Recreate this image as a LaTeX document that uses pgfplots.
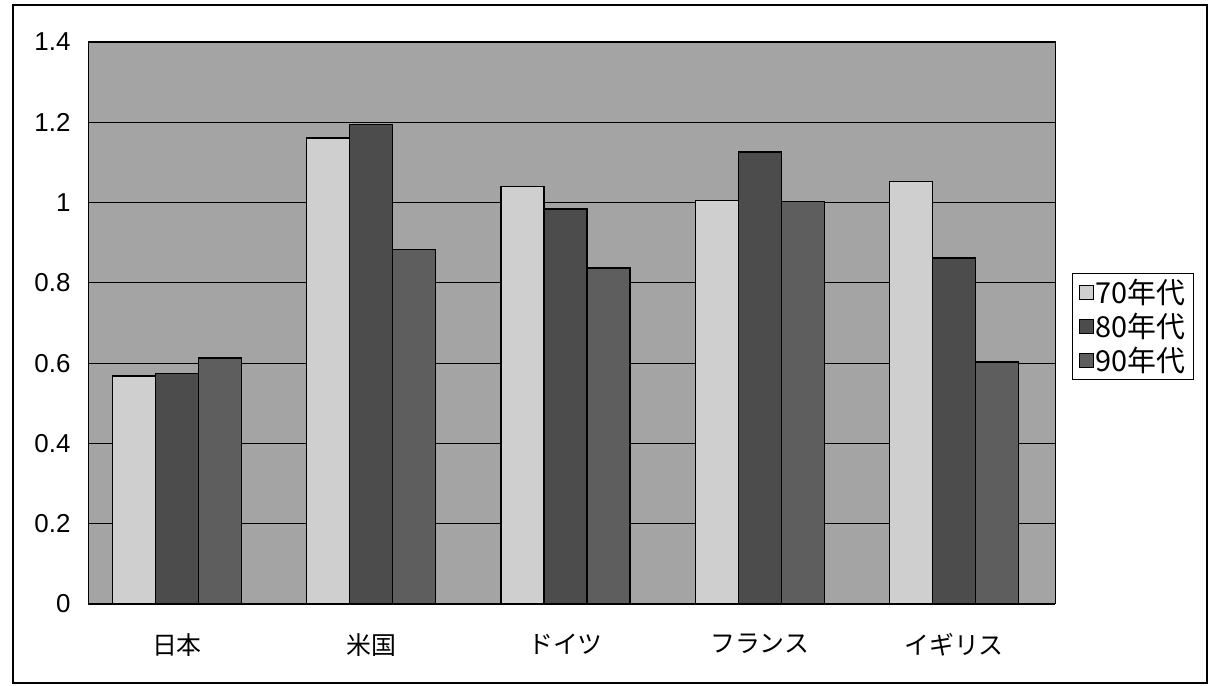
\documentclass[border=0pt]{standalone}
\usepackage{pgfplots}
\pgfplotsset{compat=1.18}
\usepackage{fontspec}
\setmainfont{Liberation Sans}
\newfontfamily\jp{Noto Sans CJK JP}
\definecolor{bgc}{HTML}{A4A4A4}
\definecolor{c70}{HTML}{CFCFCF}
\definecolor{c80}{HTML}{4C4C4C}
\definecolor{c90}{HTML}{5E5E5E}
\begin{document}
\begin{tikzpicture}[x=1bp,y=1bp]
\useasboundingbox (0,0) rectangle (1209,686);
\draw[line width=1.2bp] (13,3) rectangle (1207,681);
\begin{axis}[
  at={(88bp,82bp)}, anchor=south west,
  scale only axis, width=967bp, height=562bp,
  ybar=0pt, bar width=43bp,
  xmin=-0.458, xmax=4.52,
  ymin=0, ymax=1.4,
  xtick={0,1,2,3,4},
  xticklabels={日本,米国,ドイツ,フランス,イギリス},
  ytick={0,0.2,0.4,0.6,0.8,1,1.2,1.4},
  yticklabels={0,0.2,0.4,0.6,0.8,1,1.2,1.4},
  major tick length=0pt,
  ymajorgrids, grid style={black, line width=0.9bp},
  axis background/.style={fill=bgc},
  axis line style={black, line width=1bp},
  xticklabel style={font=\jp\fontsize{25}{28}\selectfont, yshift=-26bp},
  yticklabel style={font=\fontsize{26}{28}\selectfont, xshift=-14bp},
  /pgf/number format/assume math mode=true,
  legend style={at={(1.0176,0.589)}, anchor=north west, draw=black, line width=1bp,
    font=\jp\fontsize{29}{34}\selectfont, inner xsep=6bp, inner ysep=4bp, row sep=4bp,
    /tikz/every even column/.append style={column sep=6bp}},
  legend cell align=left,
  legend image code/.code={\draw[#1, line width=1bp] (0bp,-7bp) rectangle (14bp,7bp);},
]
\addplot[fill=c70, draw=black, line width=1.2bp] coordinates {(0,0.568) (1,1.161) (2,1.041) (3,1.006) (4,1.052)};
\addplot[fill=c80, draw=black, line width=1.2bp] coordinates {(0,0.574) (1,1.195) (2,0.984) (3,1.126) (4,0.862)};
\addplot[fill=c90, draw=black, line width=1.2bp] coordinates {(0,0.613) (1,0.884) (2,0.837) (3,1.002) (4,0.603)};
\legend{70年代,80年代,90年代}
\end{axis}
\end{tikzpicture}
\end{document}
